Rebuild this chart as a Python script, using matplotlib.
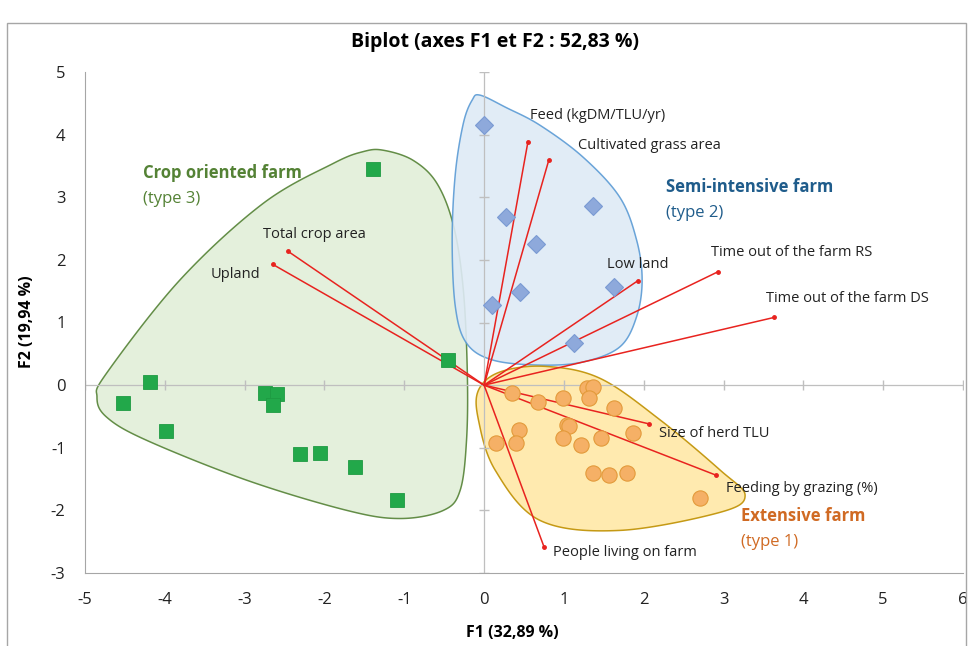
import numpy as np
import matplotlib
matplotlib.use("Agg")
import matplotlib.pyplot as plt
from matplotlib.patches import Rectangle, Polygon

# --- observations (read from the reference picture) ---
# type 3 : crop oriented farm
crop_x = [-1.39, -0.45, -4.19, -4.53, -3.99, -2.74, -2.60, -2.65, -2.31, -2.06, -1.62, -1.09]
crop_y = [3.45, 0.40, 0.05, -0.29, -0.73, -0.12, -0.14, -0.32, -1.10, -1.08, -1.30, -1.84]

# type 2 : semi-intensive farm
semi_x = [0.00, 0.28, 0.65, 1.36, 1.63, 0.45, 0.10, 1.13]
semi_y = [4.16, 2.69, 2.25, 2.86, 1.57, 1.49, 1.28, 0.68]

# type 1 : extensive farm
ext_x = [0.35, 0.68, 0.99, 1.29, 1.36, 1.31, 1.63, 0.44, 1.04, 1.07, 0.15, 0.40,
         0.99, 1.21, 1.46, 1.86, 1.36, 1.57, 1.79, 2.70]
ext_y = [-0.13, -0.27, -0.21, -0.04, -0.03, -0.21, -0.37, -0.72, -0.63, -0.65, -0.93, -0.93,
         -0.85, -0.95, -0.84, -0.77, -1.41, -1.44, -1.41, -1.80]

# --- variables (arrow ends) ---
var_names = ["Feed (kgDM/TLU/yr)", "Cultivated grass area", "Low land",
             "Time out of the farm RS", "Time out of the farm DS", "Total crop area",
             "Upland", "Size of herd TLU", "Feeding by grazing (%)", "People living on farm"]
var_x = [0.55, 0.81, 1.93, 2.93, 3.63, -2.46, -2.65, 2.07, 2.91, 0.75]
var_y = [3.89, 3.59, 1.67, 1.81, 1.08, 2.14, 1.93, -0.62, -1.44, -2.58]
lab_x = [0.58, 1.18, 1.54, 2.84, 3.53, -2.77, -3.42, 2.19, 3.03, 0.86]
lab_y = [4.31, 3.83, 1.93, 2.12, 1.39, 2.41, 1.76, -0.77, -1.65, -2.68]

# --- hand drawn group outlines ---
crop_hull_x = [-1.26, -0.89, -0.59, -0.38, -0.26, -0.21, -0.22, -0.30, -0.51, -1.05, -1.72,
               -2.97, -4.23, -4.73, -4.85, -4.73, -3.81, -2.77, -1.89, -1.51]
crop_hull_y = [3.75, 3.59, 3.22, 2.53, 1.52, 0.19, -0.88, -1.68, -2.00, -2.13, -2.00,
               -1.52, -0.88, -0.51, -0.19, 0.19, 1.68, 2.90, 3.54, 3.73]
semi_hull_x = [-0.05, 0.28, 0.70, 1.24, 1.70, 1.91, 1.98, 1.91, 1.70, 1.24, 0.70, 0.11,
               -0.22, -0.36, -0.40, -0.36, -0.26, -0.15]
semi_hull_y = [4.63, 4.43, 4.15, 3.64, 3.00, 2.32, 1.68, 1.09, 0.61, 0.37, 0.32, 0.40,
               0.67, 1.25, 2.32, 3.38, 4.18, 4.55]
ext_hull_x = [-0.07, 0.20, 0.76, 1.45, 2.21, 2.96, 3.27, 2.96, 1.70, 0.70, 0.14, -0.07]
ext_hull_y = [-0.08, 0.21, 0.30, 0.11, -0.56, -1.36, -1.76, -2.03, -2.32, -2.16, -1.36, -0.56]

xticks = list(range(-5, 7))
yticks = list(range(-3, 6))


def smooth_closed(xs, ys, n=30):
    # Catmull-Rom through the outline points, closed
    P = np.column_stack([xs, ys])
    m = len(P)
    t = np.linspace(0, 1, n, endpoint=False)[:, None]
    out = []
    for i in range(m):
        p0, p1, p2, p3 = P[i - 1], P[i], P[(i + 1) % m], P[(i + 2) % m]
        out.append(0.5 * (2 * p1 + (-p0 + p2) * t + (2 * p0 - 5 * p1 + 4 * p2 - p3) * t ** 2
                          + (-p0 + 3 * p1 - 3 * p2 + p3) * t ** 3))
    return np.vstack(out)


plt.rcParams["font.family"] = ["Open Sans", "DejaVu Sans"]
plt.rcParams["axes.unicode_minus"] = False

fig = plt.figure(figsize=(9.69, 6.46), dpi=100)
ax = fig.add_axes([85 / 969, 1 - 573 / 646, 878 / 969, 501 / 646])

# outer chart border
fig.patches.append(Rectangle((7 / 969, -0.1), 959 / 969, 1.1 - 23 / 646, transform=fig.transFigure,
                             fill=False, edgecolor="#A6A6A6", lw=1.0))

ax.set_xlim(-5, 6)
ax.set_ylim(-3, 5)

# group outlines
for hx, hy, fc, ec in [(crop_hull_x, crop_hull_y, "#E2EFD9", "#548235"),
                       (semi_hull_x, semi_hull_y, "#DEEAF6", "#5B9BD5"),
                       (ext_hull_x, ext_hull_y, "#FFE8A6", "#BF9000")]:
    pts = smooth_closed(hx, hy)
    ax.add_patch(Polygon(pts, closed=True, facecolor=fc, edgecolor=ec, lw=1.1, alpha=0.9, zorder=1))

# zero lines with their tick marks
ax.axhline(0, color="#BFBFBF", lw=0.9, zorder=2)
ax.axvline(0, color="#BFBFBF", lw=0.9, zorder=2)
ax.plot([v for v in xticks if v != 0], [0] * (len(xticks) - 1), ls="none", marker="|",
        ms=7, color="#BFBFBF", zorder=2)
ax.plot([0] * (len(yticks) - 1), [v for v in yticks if v != 0], ls="none", marker="_",
        ms=7, color="#BFBFBF", zorder=2)

# variable arrows
for x, y in zip(var_x, var_y):
    ax.plot([0, x], [0, y], color="#E8231F", lw=1.1, zorder=3)
    ax.plot(x, y, "o", color="#E8231F", ms=2.5, zorder=3)
for name, x, y in zip(var_names, lab_x, lab_y):
    ax.text(x, y, name, fontsize=10.5, color="#222222", va="center", ha="left", zorder=5)

# observations
ax.plot(crop_x, crop_y, "s", ms=9.5, color="#22A84A", mec="#1E9A42", mew=0.6, zorder=4)
ax.plot(semi_x, semi_y, "D", ms=9, color="#8EA9DB", mec="#7A9AD3", mew=0.8, zorder=4)
ax.plot(ext_x, ext_y, "o", ms=11, color="#F5B066", mec="#E39A3A", mew=0.8, zorder=4)

# group labels
ax.text(-4.27, 3.39, "Crop oriented farm", fontsize=12, fontweight="bold", color="#548235", va="center")
ax.text(-4.27, 2.97, "(type 3)", fontsize=12, color="#548235", va="center")
ax.text(2.28, 3.16, "Semi-intensive farm", fontsize=12, fontweight="bold", color="#1F5C8B", va="center")
ax.text(2.28, 2.75, "(type 2)", fontsize=12, color="#1F5C8B", va="center")
ax.text(3.22, -2.09, "Extensive farm", fontsize=12, fontweight="bold", color="#D06A23", va="center")
ax.text(3.22, -2.51, "(type 1)", fontsize=12, color="#D06A23", va="center")

# axes look
ax.set_xticks(xticks)
ax.set_yticks(yticks)
ax.tick_params(length=0, labelsize=12, pad=14, colors="#222222")
for side in ["top", "right"]:
    ax.spines[side].set_visible(False)
for side in ["left", "bottom"]:
    ax.spines[side].set_color("#A6A6A6")

ax.set_xlabel("F1 (32,89 %)", fontsize=11.5, fontweight="bold")
ax.set_ylabel("F2 (19,94 %)", fontsize=11.5, fontweight="bold")
ax.xaxis.set_label_coords((512 - 85) / 878, -0.104)
ax.yaxis.set_label_coords(-0.057, (573 - 322) / 501)
fig.text(495 / 969, 1 - 42 / 646, "Biplot (axes F1 et F2 : 52,83 %)", fontsize=14,
         fontweight="bold", ha="center", va="center")

fig.savefig("out.png", dpi=100)
